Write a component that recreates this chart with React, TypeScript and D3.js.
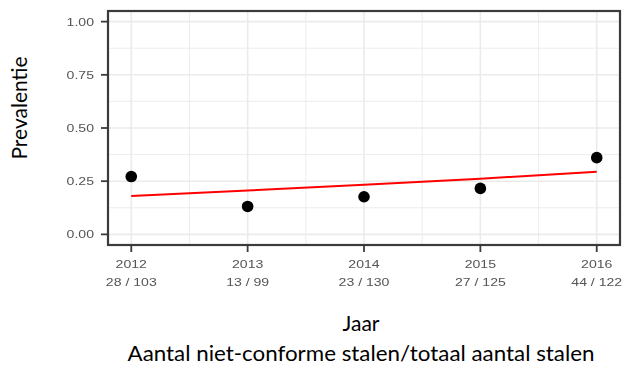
import React from "react";
import * as d3 from "d3";

// Yearly sampling results: non-conforming samples / total samples
const years = [2012, 2013, 2014, 2015, 2016];
const positives = [28, 13, 23, 27, 44];
const totals = [103, 99, 130, 125, 122];

// Fitted trend (logistic fit) evaluated at each year
const fitValues = [0.18, 0.206, 0.233, 0.262, 0.294];

const yTicks = [0, 0.25, 0.5, 0.75, 1];
const yMinor = [0.125, 0.375, 0.625, 0.875];
const xMinor = [2012.5, 2013.5, 2014.5, 2015.5];

const W = 624;
const H = 367;
const panel = { left: 108, right: 620, top: 11, bottom: 245 };

const tickFont = "'Liberation Sans', Arial, sans-serif";
const titleFont = "Lato, 'Open Sans', sans-serif";

export default function App() {
  const x = d3.scaleLinear().domain([2011.8, 2016.2]).range([panel.left, panel.right]);
  const y = d3.scaleLinear().domain([-0.05, 1.05]).range([panel.bottom, panel.top]);

  const points = years.map((yr, i) => ({ yr, p: positives[i] / totals[i] }));
  const line = d3
    .line<number>()
    .x((_, i) => x(years[i]))
    .y((v) => y(v));

  const grid = "#EBEBEB";
  const tickColor = "#555";

  return (
    <div style={{ position: "fixed", left: 0, top: 0 }}>
      <svg width={W} height={H} style={{ display: "block", background: "#fff" }}>
        <defs>
          <filter id="soft" x="-5%" y="-5%" width="110%" height="110%">
            <feGaussianBlur stdDeviation="0.45" />
          </filter>
        </defs>
        <g filter="url(#soft)">
          {/* minor grid */}
          {yMinor.map((v) => (
            <line key={"ym" + v} x1={panel.left} x2={panel.right} y1={y(v)} y2={y(v)} stroke={grid} strokeWidth={0.9} />
          ))}
          {xMinor.map((v) => (
            <line key={"xm" + v} y1={panel.top} y2={panel.bottom} x1={x(v)} x2={x(v)} stroke={grid} strokeWidth={0.9} />
          ))}
          {/* major grid */}
          {yTicks.map((v) => (
            <line key={"yg" + v} x1={panel.left} x2={panel.right} y1={y(v)} y2={y(v)} stroke={grid} strokeWidth={1.6} />
          ))}
          {years.map((v) => (
            <line key={"xg" + v} y1={panel.top} y2={panel.bottom} x1={x(v)} x2={x(v)} stroke={grid} strokeWidth={1.6} />
          ))}

          {/* trend line */}
          <path d={line(fitValues) || ""} fill="none" stroke="#FF0000" strokeWidth={2} />

          {/* observed prevalence */}
          {points.map((d) => (
            <circle key={d.yr} cx={x(d.yr)} cy={y(d.p)} r={5.8} fill="#000" />
          ))}

          {/* panel border */}
          <rect
            x={panel.left}
            y={panel.top}
            width={panel.right - panel.left}
            height={panel.bottom - panel.top}
            fill="none"
            stroke="#3a3a3a"
            strokeWidth={2.2}
          />

          {/* y axis ticks and labels */}
          {yTicks.map((v) => (
            <g key={"yt" + v}>
              <line x1={panel.left - 7} x2={panel.left} y1={y(v)} y2={y(v)} stroke="#3a3a3a" strokeWidth={1.8} />
              <text
                transform={`translate(${panel.left - 14},${y(v) + 4}) scale(1.28,1)`}
                textAnchor="end"
                fontFamily={tickFont}
                fontSize={11}
                fill={tickColor}
              >
                {v.toFixed(2)}
              </text>
            </g>
          ))}

          {/* x axis ticks and labels */}
          {years.map((v, i) => (
            <g key={"xt" + v}>
              <line x1={x(v)} x2={x(v)} y1={panel.bottom} y2={panel.bottom + 7} stroke="#3a3a3a" strokeWidth={1.8} />
              <text
                transform={`translate(${x(v)},${268}) scale(1.28,1)`}
                textAnchor="middle"
                fontFamily={tickFont}
                fontSize={11}
                fill={tickColor}
              >
                {v}
              </text>
              <text
                transform={`translate(${x(v)},${286}) scale(1.28,1)`}
                textAnchor="middle"
                fontFamily={tickFont}
                fontSize={11}
                fill={tickColor}
              >
                {`${positives[i]} / ${totals[i]}`}
              </text>
            </g>
          ))}
        </g>

        {/* axis titles */}
        <text
          transform={`translate(27,108) rotate(-90)`}
          textAnchor="middle"
          fontFamily={titleFont}
          fontSize={21}
          fill="#000"
        >
          Prevalentie
        </text>
        <text x={361} y={331} textAnchor="middle" fontFamily={titleFont} fontSize={21} fill="#000">
          Jaar
        </text>
        <text
          x={361}
          y={361}
          textAnchor="middle"
          fontFamily={titleFont}
          fontSize={21.5}
          textLength={467}
          lengthAdjust="spacingAndGlyphs"
          fill="#000"
        >
          Aantal niet-conforme stalen/totaal aantal stalen
        </text>
      </svg>
    </div>
  );
}
